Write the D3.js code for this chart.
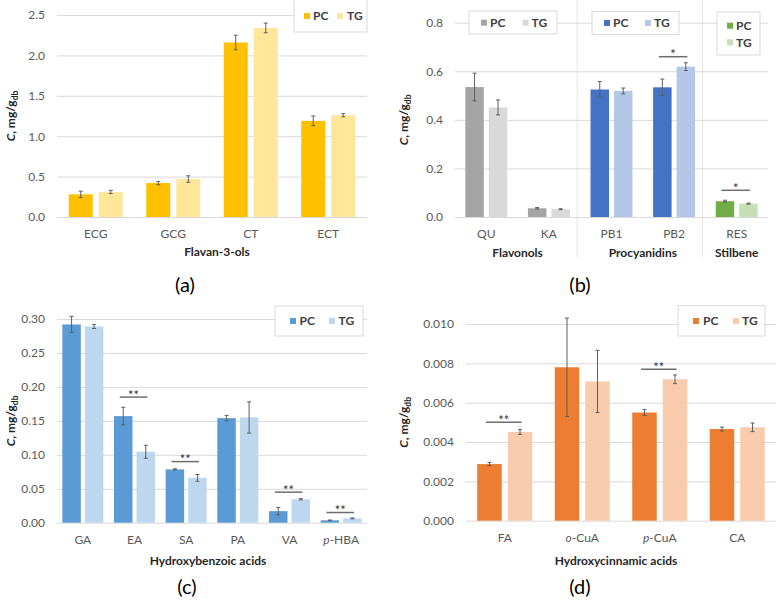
<!DOCTYPE html>
<html>
<head>
<meta charset="utf-8">
<script src="https://cdn.jsdelivr.net/npm/d3@7"></script>
<style>
body { margin: 0; background: #fff; }
</style>
</head>
<body>
<script>
const FONT = "Lato, 'Open Sans', sans-serif";
const series = ["PC", "TG"];

// (a) flavan-3-ols
const catA = ["ECG", "GCG", "CT", "ECT"];
const pcA = [0.28, 0.42, 2.16, 1.19];
const pcErrA = [0.04, 0.02, 0.09, 0.06];
const tgA = [0.31, 0.47, 2.34, 1.26];
const tgErrA = [0.02, 0.04, 0.06, 0.02];
const ticksA = [0, 0.5, 1.0, 1.5, 2.0, 2.5];

// (b) flavonols / procyanidins / stilbene
const catB = ["QU", "KA", "PB1", "PB2", "RES"];
const catGroupB = ["Flavonols", "Flavonols", "Procyanidins", "Procyanidins", "Stilbene"];
const groupsB = ["Flavonols", "Procyanidins", "Stilbene"];
const pcB = [0.535, 0.036, 0.525, 0.534, 0.065];
const pcErrB = [0.057, 0.003, 0.033, 0.034, 0.004];
const tgB = [0.451, 0.032, 0.519, 0.619, 0.055];
const tgErrB = [0.031, 0.002, 0.012, 0.016, 0.002];
const ticksB = [0, 0.2, 0.4, 0.6, 0.8];
const sigB = [{cat: "PB2", y: 0.66, label: "*"}, {cat: "RES", y: 0.11, label: "*"}];

// (c) hydroxybenzoic acids
const catC = ["GA", "EA", "SA", "PA", "VA", "p-HBA"];
const pcC = [0.292, 0.157, 0.0785, 0.154, 0.017, 0.0035];
const pcErrC = [0.012, 0.013, 0.001, 0.004, 0.0055, 0.0005];
const tgC = [0.289, 0.1045, 0.066, 0.155, 0.0345, 0.0064];
const tgErrC = [0.003, 0.0095, 0.005, 0.023, 0.001, 0.0007];
const ticksC = [0, 0.05, 0.10, 0.15, 0.20, 0.25, 0.30];
const sigC = [{cat: "EA", y: 0.185, label: "**"}, {cat: "SA", y: 0.09, label: "**"},
              {cat: "VA", y: 0.045, label: "**"}, {cat: "p-HBA", y: 0.015, label: "**"}];

// (d) hydroxycinnamic acids
const catD = ["FA", "o-CuA", "p-CuA", "CA"];
const pcD = [0.00288, 0.0078, 0.0055, 0.00466];
const pcErrD = [0.00008, 0.0025, 0.00015, 0.0001];
const tgD = [0.00451, 0.00708, 0.00719, 0.00475];
const tgErrD = [0.00012, 0.00158, 0.00022, 0.00022];
const ticksD = [0, 0.002, 0.004, 0.006, 0.008, 0.010];
const sigD = [{cat: "FA", y: 0.005, label: "**"}, {cat: "p-CuA", y: 0.0077, label: "**"}];

const colorsB = {
  Flavonols: ["#a5a5a5", "#d9d9d9"],
  Procyanidins: ["#4472c4", "#b4c7e7"],
  Stilbene: ["#70ad47", "#c5e0b4"]
};

const svg = d3.select("body").append("svg")
  .attr("width", 777).attr("height", 601)
  .style("font-family", FONT);

svg.append("rect").attr("width", 777).attr("height", 601).attr("fill", "#fff");

// labels like "p-HBA" get an italic prefix
function catLabel(t, d) {
  const m = /^([op])-(.*)$/.exec(d);
  t.text(null);
  if (m) {
    t.append("tspan").attr("font-style", "italic").text(m[1]);
    t.append("tspan").text("-" + m[2]);
  } else {
    t.text(d);
  }
}

function panel(o) {
  const g = svg.append("g");
  const x = d3.scaleBand().domain(o.cats).range([o.x0, o.x1])
    .paddingInner(o.pad).paddingOuter(o.pad / 2);
  const xs = d3.scaleBand().domain(series).range([0, x.bandwidth()]).paddingInner(o.sub);
  const y = d3.scaleLinear().domain([0, d3.max(o.ticks)]).range([o.yBot, o.yTop]);

  g.append("g")
    .attr("transform", `translate(${o.x0},0)`)
    .call(d3.axisLeft(y).tickValues(o.ticks).tickFormat(d3.format(o.fmt))
      .tickSize(-(o.x1 - o.x0)).tickPadding(12))
    .call(a => {
      a.attr("font-family", FONT).attr("font-size", 12);
      a.select(".domain").remove();
      a.selectAll("line").attr("stroke", "#d9d9d9");
      a.selectAll("text").attr("fill", "#595959");
    });

  g.append("g")
    .attr("transform", `translate(0,${o.yBot})`)
    .call(d3.axisBottom(x).tickSize(0).tickPadding(12.5))
    .call(a => {
      a.attr("font-family", FONT).attr("font-size", 12);
      a.select(".domain").remove();
      a.selectAll("text").attr("fill", "#595959").each(function(d) { catLabel(d3.select(this), d); });
    });

  const vals = {PC: o.pc, TG: o.tg};
  const errs = {PC: o.pcErr, TG: o.tgErr};
  series.forEach((s, si) => {
    const rows = o.cats.map((c, i) => ({c, i, v: vals[s][i], e: errs[s][i]}));
    g.append("g").selectAll("rect").data(rows).join("rect")
      .attr("x", d => x(d.c) + xs(s))
      .attr("y", d => y(d.v))
      .attr("width", xs.bandwidth())
      .attr("height", d => o.yBot - y(d.v))
      .attr("fill", d => o.color(d.i, si));
    const eb = g.append("g").attr("stroke", "#5f5f5f").attr("stroke-width", 1)
      .selectAll("g").data(rows).join("g")
      .attr("transform", d => `translate(${x(d.c) + xs(s) + xs.bandwidth() / 2},0)`);
    eb.append("line").attr("y1", d => y(d.v - d.e)).attr("y2", d => y(d.v + d.e));
    eb.append("line").attr("x1", -2).attr("x2", 2).attr("y1", d => y(d.v - d.e)).attr("y2", d => y(d.v - d.e));
    eb.append("line").attr("x1", -2).attr("x2", 2).attr("y1", d => y(d.v + d.e)).attr("y2", d => y(d.v + d.e));
  });

  if (o.sig) {
    const sg = g.append("g").selectAll("g").data(o.sig).join("g");
    const xa = d => x(d.cat) + xs("PC") + xs.bandwidth() / 2 - 3.5;
    const xb = d => x(d.cat) + xs("TG") + xs.bandwidth() / 2 + 1.5;
    sg.append("line")
      .attr("x1", xa).attr("x2", xb)
      .attr("y1", d => y(d.y)).attr("y2", d => y(d.y))
      .attr("stroke", "#6e6e6e").attr("stroke-width", 1.5);
    sg.append("text")
      .attr("x", d => (xa(d) + xb(d)) / 2).attr("y", d => y(d.y) + 2.5)
      .attr("text-anchor", "middle").attr("font-size", 13).attr("fill", "#333")
      .text(d => d.label);
  }

  // y title  C, mg/g_db
  const yt = g.append("text")
    .attr("transform", `translate(${o.ytx},${(o.yTop + o.yBot) / 2}) rotate(-90)`)
    .attr("text-anchor", "middle").attr("font-weight", "bold").attr("font-size", 12)
    .attr("fill", "#262626");
  yt.append("tspan").attr("font-style", "italic").text("C");
  yt.append("tspan").text(", mg/g");
  yt.append("tspan").attr("font-size", 8.5).attr("dy", 3).text("db");

  if (o.title) {
    g.append("text").attr("x", o.title[1]).attr("y", o.yBot + o.title[2])
      .attr("text-anchor", "middle").attr("font-weight", "bold").attr("font-size", 12)
      .attr("fill", "#262626").text(o.title[0]);
  }
  g.append("text").attr("x", o.letter[1]).attr("y", o.letter[2])
    .attr("text-anchor", "middle").attr("dy", "0.35em").attr("font-size", 20)
    .attr("fill", "#000").text(o.letter[0]);

  return {g, x, xs, y};
}

function legend(box, items) {
  const g = svg.append("g");
  g.append("rect").attr("x", box[0]).attr("y", box[1]).attr("width", box[2]).attr("height", box[3])
    .attr("fill", "#fff").attr("stroke", "#d9d9d9").attr("stroke-width", 1);
  items.forEach(it => {
    g.append("rect").attr("x", it.sx).attr("y", it.y - 3).attr("width", 6).attr("height", 6)
      .attr("fill", it.color);
    g.append("text").attr("x", it.tx).attr("y", it.y).attr("dy", "0.36em")
      .attr("font-weight", "bold").attr("font-size", 12).attr("fill", "#404040").text(it.label);
  });
}

// (a)
panel({cats: catA, pc: pcA, pcErr: pcErrA, tg: tgA, tgErr: tgErrA, ticks: ticksA, fmt: ".1f",
  x0: 57, x1: 367, yTop: 15, yBot: 217, pad: 0.303, sub: 0.2,
  color: (i, s) => ["#ffc000", "#ffe699"][s], ytx: 15,
  title: ["Flavan-3-ols", 217, 39], letter: ["(a)", 185, 285]});
legend([294, -1, 73, 33], [
  {color: "#ffc000", label: "PC", sx: 304, tx: 313, y: 16},
  {color: "#ffe699", label: "TG", sx: 337, tx: 347, y: 16}]);

// (b)
const pb = panel({cats: catB, pc: pcB, pcErr: pcErrB, tg: tgB, tgErr: tgErrB, ticks: ticksB, fmt: ".1f",
  x0: 455, x1: 768, yTop: 22.7, yBot: 217, pad: 0.33, sub: 0.213,
  color: (i, s) => colorsB[catGroupB[i]][s], ytx: 408, sig: sigB,
  letter: ["(b)", 580, 285]});
// group separators and group labels
groupsB.forEach((grp, gi) => {
  const cs = catB.filter((c, i) => catGroupB[i] === grp);
  const left = pb.x(cs[0]), right = pb.x(cs[cs.length - 1]) + pb.x.bandwidth();
  pb.g.append("text").attr("x", (left + right) / 2).attr("y", 257)
    .attr("text-anchor", "middle").attr("font-weight", "bold").attr("font-size", 12)
    .attr("fill", "#262626").text(grp);
  if (gi < groupsB.length - 1) {
    const nextC = catB[catB.indexOf(cs[cs.length - 1]) + 1];
    const bx = (right + pb.x(nextC)) / 2 - 3;
    pb.g.insert("line", ":first-child").attr("x1", bx).attr("x2", bx).attr("y1", 0).attr("y2", 257)
      .attr("stroke", "#e4e4e4").attr("stroke-width", 1);
  }
});
legend([469, 11, 88, 23], [
  {color: colorsB.Flavonols[0], label: "PC", sx: 481, tx: 490, y: 22.7},
  {color: colorsB.Flavonols[1], label: "TG", sx: 522.5, tx: 531.5, y: 22.7}]);
legend([592, 11.5, 87, 23], [
  {color: colorsB.Procyanidins[0], label: "PC", sx: 604, tx: 613, y: 23},
  {color: colorsB.Procyanidins[1], label: "TG", sx: 645, tx: 654, y: 23}]);
legend([717, 12, 43, 43], [
  {color: colorsB.Stilbene[0], label: "PC", sx: 727, tx: 736, y: 25.7},
  {color: colorsB.Stilbene[1], label: "TG", sx: 727, tx: 736, y: 42.3}]);

// (c)
panel({cats: catC, pc: pcC, pcErr: pcErrC, tg: tgC, tgErr: tgErrC, ticks: ticksC, fmt: ".2f",
  x0: 57, x1: 367, yTop: 319, yBot: 522.7, pad: 0.206, sub: 0.18,
  color: (i, s) => ["#5b9bd5", "#bdd7ee"][s], ytx: 15, sig: sigC,
  title: ["Hydroxybenzoic acids", 208, 42], letter: ["(c)", 187, 587]});
legend([275, 306, 88, 30], [
  {color: "#5b9bd5", label: "PC", sx: 290, tx: 299.5, y: 321},
  {color: "#bdd7ee", label: "TG", sx: 329, tx: 338.5, y: 321}]);

// (d)
panel({cats: catD, pc: pcD, pcErr: pcErrD, tg: tgD, tgErr: tgErrD, ticks: ticksD, fmt: ".3f",
  x0: 466, x1: 776, yTop: 324, yBot: 520.7, pad: 0.29, sub: 0.197,
  color: (i, s) => ["#ed7d31", "#f8cbad"][s], ytx: 408, sig: sigD,
  title: ["Hydroxycinnamic acids", 616, 44], letter: ["(d)", 580, 587]});
legend([678, 305.7, 87, 30.3], [
  {color: "#ed7d31", label: "PC", sx: 693, tx: 703, y: 321},
  {color: "#f8cbad", label: "TG", sx: 733, tx: 742, y: 321}]);
</script>
</body>
</html>
